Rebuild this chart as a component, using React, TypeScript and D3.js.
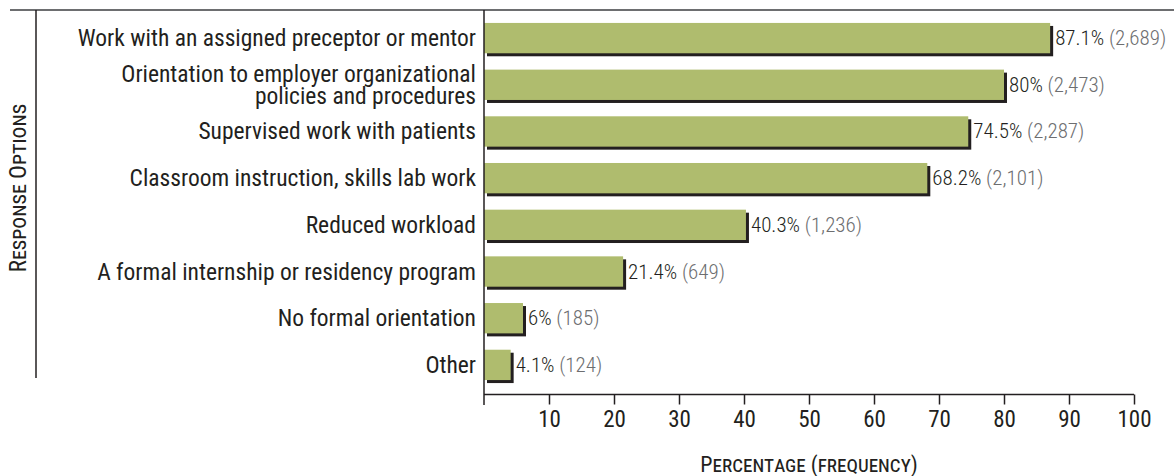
import { useEffect, useRef } from "react";
import * as d3 from "d3";

// ── Data ─────────────────────────────────────────────────────────────────────

const categories: string[][] = [
  ["Work with an assigned preceptor or mentor"],
  ["Orientation to employer organizational", "policies and procedures"],
  ["Supervised work with patients"],
  ["Classroom instruction, skills lab work"],
  ["Reduced workload"],
  ["A formal internship or residency program"],
  ["No formal orientation"],
  ["Other"],
];
const percents = [87.1, 80, 74.5, 68.2, 40.3, 21.4, 6, 4.1];
const pctLabels = ["87.1%", "80%", "74.5%", "68.2%", "40.3%", "21.4%", "6%", "4.1%"];
const freqLabels = ["(2,689)", "(2,473)", "(2,287)", "(2,101)", "(1,236)", "(649)", "(185)", "(124)"];
const xTicks = [10, 20, 30, 40, 50, 60, 70, 80, 90, 100];

const FONT = "'Liberation Sans Narrow', 'Roboto Condensed', Roboto, sans-serif";
const GREEN = "#afbc6e";
const INK = "#231f20";

export default function App() {
  const svgRef = useRef<SVGSVGElement>(null);
  const width = 1174;
  const height = 476;

  useEffect(() => {
    if (!svgRef.current) return;
    const svg = d3.select(svgRef.current);
    svg.selectAll("*").remove();

    const idx = categories.map((_, i) => String(i));
    const x = d3.scaleLinear().domain([0, 100]).range([484, 1134]);
    const y = d3.scaleBand().domain(idx).range([15, 388]).paddingInner(0.35).paddingOuter(0.17);

    // ── Frame lines ──────────────────────────────────────────────────────────
    svg.append("line")
      .attr("x1", 10).attr("x2", width).attr("y1", 10).attr("y2", 10)
      .attr("stroke", "#6d6e70").attr("stroke-width", 2);

    svg.append("line")
      .attr("x1", 36).attr("x2", 36).attr("y1", 10).attr("y2", 378)
      .attr("stroke", INK).attr("stroke-width", 1.5);

    // y-axis title, small caps
    svg.append("text")
      .attr("transform", `translate(26,188) rotate(-90)`)
      .attr("text-anchor", "middle")
      .attr("font-family", FONT).attr("font-size", 23)
      .attr("fill", INK)
      .style("font-variant", "small-caps")
      .text("Response Options");

    // ── Bars ─────────────────────────────────────────────────────────────────
    const bh = y.bandwidth();
    const rows = svg.append("g").selectAll("g").data(percents).join("g");

    rows.append("rect")
      .attr("x", x(0) + 3).attr("y", (_, i) => (y(String(i)) ?? 0) + 3)
      .attr("width", (d) => x(d) - x(0))
      .attr("height", bh)
      .attr("fill", INK);

    rows.append("rect")
      .attr("x", x(0)).attr("y", (_, i) => y(String(i)) ?? 0)
      .attr("width", (d) => x(d) - x(0))
      .attr("height", bh)
      .attr("fill", GREEN);

    // value labels
    const vl = rows.append("text")
      .attr("x", (d) => x(d) + 5)
      .attr("y", (_, i) => (y(String(i)) ?? 0) + bh / 2 + 7)
      .attr("font-family", FONT).attr("font-size", 21).attr("font-weight", 300);
    vl.append("tspan").attr("fill", INK).text((_, i) => pctLabels[i]);
    vl.append("tspan").attr("fill", "#6d6e70").text((_, i) => " " + freqLabels[i]);

    // category labels
    rows.append("text")
      .attr("text-anchor", "end")
      .attr("font-family", FONT).attr("font-size", 23.5).attr("fill", INK)
      .each(function (_, i) {
        const lines = categories[i];
        const cy = (y(String(i)) ?? 0) + bh / 2;
        const lh = 22;
        const t = d3.select(this);
        lines.forEach((ln, j) => {
          t.append("tspan")
            .attr("x", 476)
            .attr("y", cy + 8 + (j - (lines.length - 1) / 2) * lh)
            .text(ln);
        });
      });

    // ── Axes ─────────────────────────────────────────────────────────────────
    svg.append("line")
      .attr("x1", x(0)).attr("x2", x(0)).attr("y1", 10).attr("y2", 405)
      .attr("stroke", INK).attr("stroke-width", 1.5);

    const ax = svg.append("g")
      .attr("transform", "translate(0,394.5)")
      .call(d3.axisBottom(x).tickValues(xTicks).tickSize(10).tickPadding(6).tickSizeOuter(0));
    ax.select(".domain").attr("stroke", INK).attr("stroke-width", 1.5).attr("d", `M${x(0)},0H${x(100)}`);
    ax.selectAll(".tick line").attr("stroke", INK).attr("stroke-width", 1.5);
    ax.selectAll(".tick text")
      .attr("fill", INK).attr("font-family", FONT).attr("font-size", 23);

    svg.append("text")
      .attr("x", (x(0) + x(100)) / 2).attr("y", 472)
      .attr("text-anchor", "middle")
      .attr("font-family", FONT).attr("font-size", 22).attr("fill", INK)
      .style("font-variant", "small-caps")
      .text("Percentage (frequency)");
  }, []);

  return (
    <svg
      ref={svgRef}
      width={width}
      height={height}
      style={{ position: "absolute", left: 0, top: 0, background: "#fff" }}
    />
  );
}
